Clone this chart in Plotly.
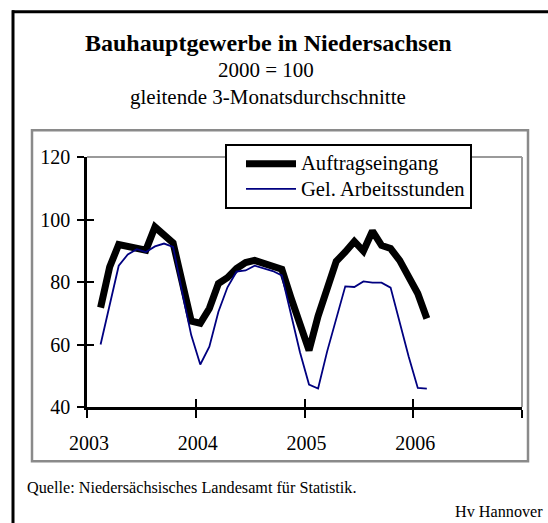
import plotly.graph_objects as go

# ---- data (monthly, centred 3-month moving averages, 2000 = 100) ----
months = ["2003-02", "2003-03", "2003-04", "2003-05", "2003-06", "2003-07", "2003-08",
          "2003-09", "2003-10", "2003-11", "2003-12", "2004-01", "2004-02", "2004-03",
          "2004-04", "2004-05", "2004-06", "2004-07", "2004-08", "2004-09", "2004-10",
          "2004-11", "2004-12", "2005-01", "2005-02", "2005-03", "2005-04", "2005-05",
          "2005-06", "2005-07", "2005-08", "2005-09", "2005-10", "2005-11", "2005-12",
          "2006-01", "2006-02"]

auftragseingang = [71.8, 84.8, 92.0, 91.5, 91.2, 90.2, 97.6, 95.0, 92.5, 80.0, 67.5,
                   66.8, 71.5, 79.5, 81.4, 84.3, 86.2, 86.9, 85.9, 84.6, 84.1, 75.0,
                   66.0, 58.1, 69.1, 78.6, 86.6, 89.6, 93.0, 89.9, 96.3, 91.7, 90.7,
                   86.9, 81.8, 76.3, 68.3]

arbeitsstunden = [60.0, 72.4, 85.2, 88.8, 90.5, 89.6, 91.4, 92.3, 91.2, 76.8, 63.0,
                  53.6, 59.3, 70.5, 78.3, 83.3, 83.7, 85.2, 84.3, 83.5, 82.1, 69.5,
                  57.5, 47.2, 45.9, 57.8, 68.6, 78.6, 78.4, 80.2, 79.8, 79.8, 78.2,
                  67.0, 56.1, 46.1, 45.9]

series_names = ["Auftragseingang", "Gel. Arbeitsstunden"]
year_labels = ["2003", "2004", "2005", "2006", ""]
year_ticks = [0, 12, 24, 36, 48]
y_ticks = [40, 60, 80, 100, 120]

# category position: month index from Jan 2003, centred in its slot
xpos = [(int(m[:4]) - 2003) * 12 + int(m[5:]) - 1 + 0.5 for m in months]

FONT = "Liberation Serif, Times New Roman, serif"

# plot-area pixel geometry (for decorations)
PL, PR, PT, PB = 87, 522, 156.7, 406.7
W, H = 548, 523


def fx(px):
    return (px - PL) / (PR - PL)


def fy(py):
    return (PB - py) / (PB - PT)


def legend_name(s):
    return '<span style="font-size:20.6px">' + s + "</span>"


fig = go.Figure()
fig.add_trace(go.Scatter(x=xpos, y=auftragseingang, mode="lines",
                         name=legend_name(series_names[0]),
                         line=dict(color="black", width=7)))
fig.add_trace(go.Scatter(x=xpos, y=arbeitsstunden, mode="lines",
                         name=legend_name(series_names[1]),
                         line=dict(color="#000080", width=1.8)))
# empty trace to register the overlay axes used for crossing ticks
fig.add_trace(go.Scatter(x=[None], y=[None], xaxis="x2", yaxis="y2", showlegend=False,
                         hoverinfo="skip"))

axis_common = dict(showgrid=False, zeroline=False, tickcolor="black", tickwidth=2)

fig.update_layout(
    width=W, height=H, autosize=False,
    margin=dict(l=PL, r=W - PR, t=PT, b=H - PB, pad=0),
    paper_bgcolor="white", plot_bgcolor="white",
    font=dict(family=FONT, color="black", size=20),
    xaxis=dict(range=[0, 48], tickmode="array", tickvals=year_ticks, ticktext=year_labels,
               ticks="outside", ticklen=8, showline=True, linecolor="black", linewidth=2.5,
               ticklabelshift=2, ticklabelstandoff=8,
               tickfont=dict(family=FONT, size=20, color="black"), **axis_common),
    xaxis2=dict(range=[0, 48], overlaying="x", anchor="y", side="bottom", tickmode="array",
                tickvals=year_ticks, ticks="inside", ticklen=8, showticklabels=False,
                showline=False, **axis_common),
    yaxis=dict(range=[40, 120], tickmode="array", tickvals=y_ticks, ticks="outside", ticklen=7,
               showline=True, linecolor="black", linewidth=2.5, ticklabelstandoff=3,
               tickfont=dict(family=FONT, size=20, color="black"), **axis_common),
    yaxis2=dict(range=[40, 120], overlaying="y", anchor="x", side="left", tickmode="array",
                tickvals=y_ticks, ticks="inside", ticklen=7, showticklabels=False,
                showline=False, **axis_common),
    legend=dict(x=fx(225), y=fy(144), xanchor="left", yanchor="top",
                bgcolor="white", bordercolor="black", borderwidth=2,
                font=dict(family=FONT, size=17, color="black"), indentation=14,
                itemwidth=50, tracegroupgap=0),
    showlegend=True,
)

shapes = [
    # outer black frame (top and left)
    dict(type="line", xref="paper", yref="paper", x0=fx(12), x1=fx(548), y0=fy(11.5), y1=fy(11.5),
         line=dict(color="black", width=3)),
    dict(type="line", xref="paper", yref="paper", x0=fx(13), x1=fx(13), y0=fy(10), y1=fy(523),
         line=dict(color="black", width=3)),
    # grey chart box
    dict(type="rect", xref="paper", yref="paper", x0=fx(32), x1=fx(528), y0=fy(130), y1=fy(461),
         line=dict(color="#8a8a8a", width=2.5)),
    # grey plot-area border (top, right)
    dict(type="line", xref="paper", yref="paper", x0=0, x1=1, y0=1, y1=1,
         line=dict(color="#9a9a9a", width=2)),
    dict(type="line", xref="paper", yref="paper", x0=1, x1=1, y0=0, y1=1,
         line=dict(color="#9a9a9a", width=2)),
]
fig.update_layout(shapes=shapes)

annotations = [
    dict(text="<b>Bauhauptgewerbe in Niedersachsen</b>", x=fx(268), y=fy(43),
         font=dict(family=FONT, size=24, color="black")),
    dict(text="2000 = 100", x=fx(266), y=fy(70), font=dict(family=FONT, size=21, color="black")),
    dict(text="gleitende 3-Monatsdurchschnitte", x=fx(268), y=fy(97),
         font=dict(family=FONT, size=21, color="black")),
]
for a in annotations:
    a.update(xref="paper", yref="paper", xanchor="center", yanchor="middle", showarrow=False)
annotations += [
    dict(text="Quelle: Niedersächsisches Landesamt für Statistik.", x=fx(25), y=fy(488),
         xref="paper", yref="paper", xanchor="left", yanchor="middle", showarrow=False,
         font=dict(family=FONT, size=16.2, color="black")),
    dict(text="Hv Hannover", x=fx(545), y=fy(512), xref="paper", yref="paper",
         xanchor="right", yanchor="middle", showarrow=False,
         font=dict(family=FONT, size=16.2, color="black")),
]
fig.update_layout(annotations=annotations)

fig.write_html("out.html", config={"displayModeBar": False},
               post_script="document.body.style.margin='0';document.body.style.overflow='hidden';")
